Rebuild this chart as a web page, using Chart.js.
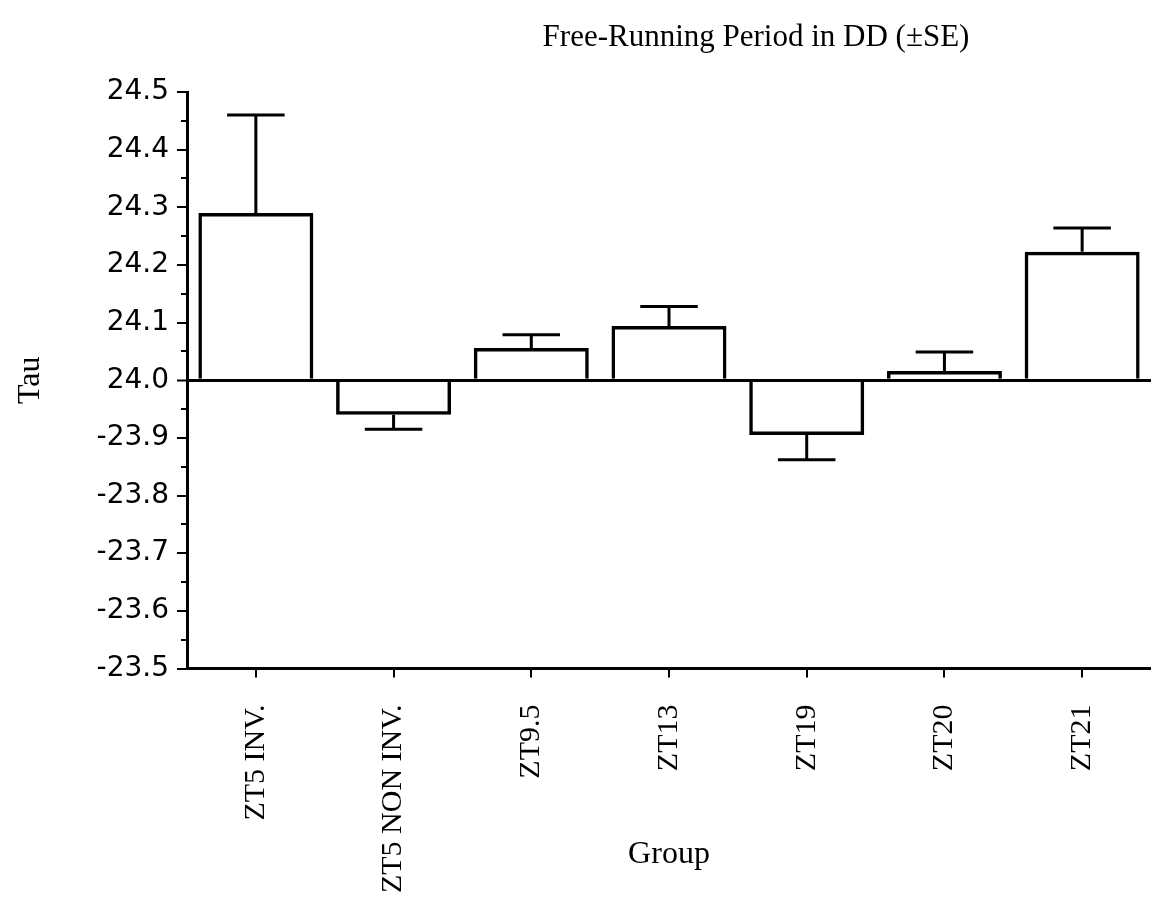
<!DOCTYPE html>
<html><head><meta charset="utf-8">
<script src="https://cdn.jsdelivr.net/npm/chart.js@4/dist/chart.umd.min.js"></script>
<style>html,body{margin:0;padding:0;background:#fff;} #wrap{width:1151px;height:899px;position:relative;}</style>
</head><body><div id="wrap"><canvas id="c" width="1151" height="899"></canvas></div>
<script>
// ---- data ----
const categories = ['ZT5 INV.', 'ZT5 NON INV.', 'ZT9.5', 'ZT13', 'ZT19', 'ZT20', 'ZT21'];
const tauMeans = [24.29, 23.94, 24.056, 24.094, 23.905, 24.016, 24.223];
const tauSE = [0.17, 0.025, 0.023, 0.034, 0.043, 0.033, 0.041];
const yTickLabels = ['-23.5', '-23.6', '-23.7', '-23.8', '-23.9', '24.0', '24.1', '24.2', '24.3', '24.4', '24.5'];
const yMinorTicks = [23.55, 23.65, 23.75, 23.85, 23.95, 24.05, 24.15, 24.25, 24.35, 24.45];
const baseValue = 24.0;
const chartTitle = 'Free-Running Period in DD (±SE)';
const xAxisTitle = 'Group';
const yAxisTitle = 'Tau';

const SERIF = '"Liberation Serif", "Times New Roman", serif';
const SANS = '"DejaVu Sans", Verdana, sans-serif';

const whiteBg = {
  id: 'whiteBg',
  beforeDraw(chart) {
    const ctx = chart.ctx;
    ctx.save(); ctx.fillStyle = '#fff'; ctx.fillRect(0, 0, chart.width, chart.height); ctx.restore();
  }
};

const errorBars = {
  id: 'errorBars',
  afterDatasetsDraw(chart) {
    const ctx = chart.ctx;
    const y = chart.scales.y;
    const meta = chart.getDatasetMeta(0);
    ctx.save();
    ctx.strokeStyle = '#000';
    ctx.lineWidth = 3;
    ctx.lineCap = 'butt';
    tauMeans.forEach((m, i) => {
      const bar = meta.data[i];
      const dir = m >= baseValue ? 1 : -1;
      const y0 = y.getPixelForValue(m);
      const y1 = y.getPixelForValue(m + dir * tauSE[i]);
      const half = bar.width * 0.25;
      ctx.beginPath();
      ctx.moveTo(bar.x, y0); ctx.lineTo(bar.x, y1);
      ctx.moveTo(bar.x - half, y1); ctx.lineTo(bar.x + half, y1);
      ctx.stroke();
    });
    ctx.restore();
  }
};

const minorTicks = {
  id: 'minorTicks',
  afterDraw(chart) {
    const ctx = chart.ctx;
    const y = chart.scales.y;
    const left = chart.chartArea.left;
    ctx.save();
    ctx.strokeStyle = '#000';
    ctx.lineWidth = 2;
    yMinorTicks.forEach(v => {
      const py = Math.round(y.getPixelForValue(v));
      ctx.beginPath(); ctx.moveTo(left - 6, py); ctx.lineTo(left, py); ctx.stroke();
    });
    ctx.restore();
  }
};

const titlePlugin = {
  id: 'titlePlugin',
  afterDraw(chart) {
    const ctx = chart.ctx;
    ctx.save();
    ctx.fillStyle = '#000';
    ctx.font = '31px ' + SERIF;
    ctx.textAlign = 'center';
    ctx.textBaseline = 'middle';
    ctx.fillText(chartTitle, 756, 38);
    ctx.restore();
  }
};

new Chart(document.getElementById('c'), {
  type: 'bar',
  data: {
    labels: categories,
    datasets: [{
      data: tauMeans,
      base: baseValue,
      backgroundColor: 'rgba(255,255,255,0)',
      borderColor: '#000',
      borderWidth: 3.5,
      borderSkipped: 'start',
      barPercentage: 0.835,
      categoryPercentage: 1
    }]
  },
  options: {
    responsive: false,
    animation: false,
    devicePixelRatio: 1,
    layout: { padding: { top: 92, left: 0, right: 0, bottom: 0 } },
    plugins: { legend: { display: false }, tooltip: { enabled: false }, title: { display: false } },
    scales: {
      x: {
        grid: { offset: false, drawOnChartArea: false, color: '#000', tickColor: '#000', tickWidth: 2, tickLength: 9, lineWidth: 2 },
        border: { display: true, color: '#000', width: 3 },
        ticks: { minRotation: 90, maxRotation: 90, autoSkip: false, padding: 27, color: '#000', font: { family: SERIF, size: 30 } },
        title: { display: true, text: xAxisTitle, color: '#000', font: { family: SERIF, size: 32 }, padding: { top: 0, bottom: 25 } },
        afterFit(s) { s.height = 230.5; }
      },
      y: {
        min: 23.5,
        max: 24.5,
        grid: {
          drawOnChartArea: true,
          color: ctx => ctx.index === 5 ? '#000' : 'rgba(0,0,0,0)',
          lineWidth: ctx => ctx.index === 5 ? 3 : 0,
          tickColor: '#000', tickWidth: 2, tickLength: 10
        },
        border: { display: true, color: '#000', width: 3 },
        ticks: {
          stepSize: 0.1,
          padding: 8,
          color: '#000',
          font: { family: SANS, size: 28 },
          callback: (v, i) => yTickLabels[i]
        },
        title: { display: true, text: yAxisTitle, color: '#000', font: { family: SERIF, size: 32 }, padding: { top: 11, bottom: 0 } },
        afterFit(s) { s.width = 187; }
      }
    }
  },
  plugins: [whiteBg, errorBars, minorTicks, titlePlugin]
});
</script>
</body></html>
